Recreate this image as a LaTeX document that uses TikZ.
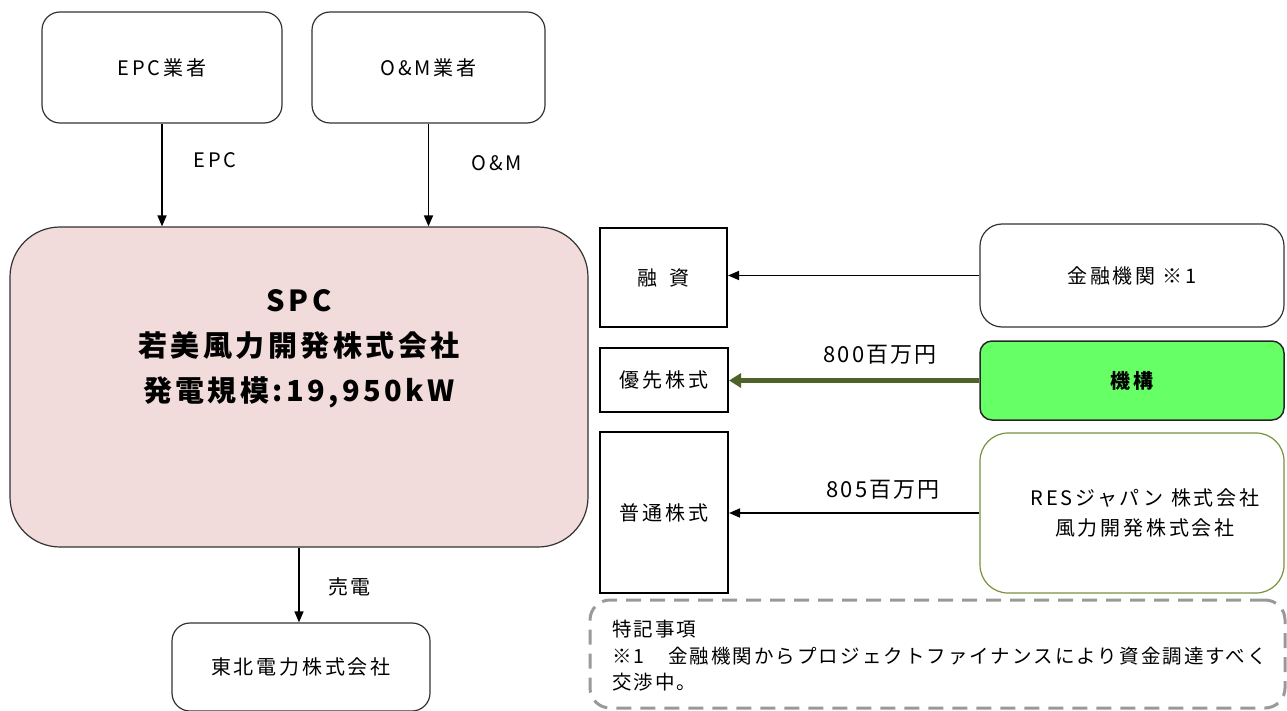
\documentclass[tikz,border=0pt]{standalone}
\usepackage{fontspec}
\setmainfont{Noto Sans CJK JP}
\newfontfamily\spaced[LetterSpace=14]{Noto Sans CJK JP}
\newfontfamily\notefont[LetterSpace=10.5]{Noto Sans CJK JP}
\newfontfamily\numfont[LetterSpace=10]{Noto Sans CJK JP}
\newfontfamily\spcfont[LetterSpace=12]{Noto Sans CJK JP}
\usetikzlibrary{arrows.meta}
\definecolor{spcfill}{HTML}{F2DCDB}
\definecolor{kikogreen}{HTML}{66FF66}
\definecolor{olive}{HTML}{76923C}
\definecolor{darkolive}{HTML}{4F6228}
\definecolor{dashgray}{HTML}{999999}
\tikzset{
  txt/.style={font=\spaced\fontsize{20}{30}\selectfont},
  rbox/.style={draw=black!80, line width=1.2pt, rounded corners=18pt, align=center, inner sep=0pt, txt},
  sbox/.style={draw=black, line width=2pt, align=center, inner sep=0pt, txt},
  conn/.style={draw=black, line width=1.6pt, -{Triangle[width=9pt,length=11pt]}},
  lbl/.style={txt, inner sep=0pt},
}
\begin{document}
\begin{tikzpicture}[x=1pt,y=-1pt]
\useasboundingbox (0,0) rectangle (1287,711);
% top boxes
\node[rbox, minimum width=240pt, minimum height=111pt] (epc) at (162,67.5) {EPC業者};
\node[rbox, minimum width=233pt, minimum height=111pt] (om) at (428.5,67.5) {O\&M業者};
% SPC
\node[draw=black!80, line width=1.2pt, fill=spcfill, rounded corners=50pt, minimum width=578pt, minimum height=320pt, align=center, inner sep=0pt,
      font=\spcfont\bfseries\fontsize{29}{45}\selectfont] (spc) at (299,387)
      {SPC\\若美風力開発株式会社\\発電規模:19,950kW\\[38pt]};
% bottom box
\node[rbox, minimum width=258pt, minimum height=88pt] (tohoku) at (301,667) {東北電力株式会社};
% left column boxes
\node[sbox, minimum width=127pt, minimum height=99pt] (yushi) at (663.5,277.5) {融\hspace{12pt}資};
\node[sbox, minimum width=128pt, minimum height=64pt] (yusen) at (664,380) {優先株式};
\node[sbox, minimum width=128pt, minimum height=161pt] (futsu) at (664,512.5) {普通株式};
% right column boxes
\node[rbox, minimum width=304pt, minimum height=103pt, rounded corners=22pt] (kin) at (1132,275.5) {金融機関 ※1};
\node[draw=black!85, line width=1.5pt, fill=kikogreen, rounded corners=12pt, minimum width=304pt, minimum height=79pt, inner sep=0pt,
      font=\spaced\bfseries\fontsize{20}{25}\selectfont] (kiko) at (1132,380.5) {機構};
\node[rbox, draw=olive, minimum width=304pt, minimum height=160pt, rounded corners=28pt] (res) at (1132,513)
      {\hspace*{26pt}RESジャパン 株式会社\\\hspace*{26pt}風力開発株式会社};
% note
\node[draw=dashgray, line width=3pt, dash pattern=on 15pt off 9pt, rounded corners=20pt, minimum width=695pt, minimum height=108pt,
      inner sep=0pt] (note) at (937.5,654) {};
\node[anchor=north west, align=left, inner sep=0pt, font=\notefont\fontsize{19.5}{26.5}\selectfont] (notetext) at (612,620)
      {特記事項\\※1　金融機関からプロジェクトファイナンスにより資金調達すべく\\交渉中。};
% connectors
\draw[conn] (epc.south) -- (epc.south |- spc.north);
\draw[conn] (om.south) -- (om.south |- spc.north);
\draw[conn] (spc.south) -- (spc.south |- tohoku.north);
\draw[conn] (kin.west) -- (kin.west -| yushi.east);
\draw[conn, draw=darkolive, line width=4.5pt, -{Triangle[width=14pt,length=12pt]}] (kiko.west) -- (kiko.west -| yusen.east);
\draw[conn] (res.west) -- (res.west -| futsu.east);
% labels
\node[lbl] (lepc) at (215,160) {EPC};
\node[lbl] (lom) at (497,163) {O\&M};
\node[lbl, font=\numfont\fontsize{20}{25}\selectfont] (lsell) at (349,587) {売電};
\node[lbl, font=\numfont\fontsize{22}{25}\selectfont] (l800) at (880,355) {800百万円};
\node[lbl, font=\numfont\fontsize{22}{25}\selectfont] (l805) at (883,490) {805百万円};
\end{tikzpicture}
\end{document}
